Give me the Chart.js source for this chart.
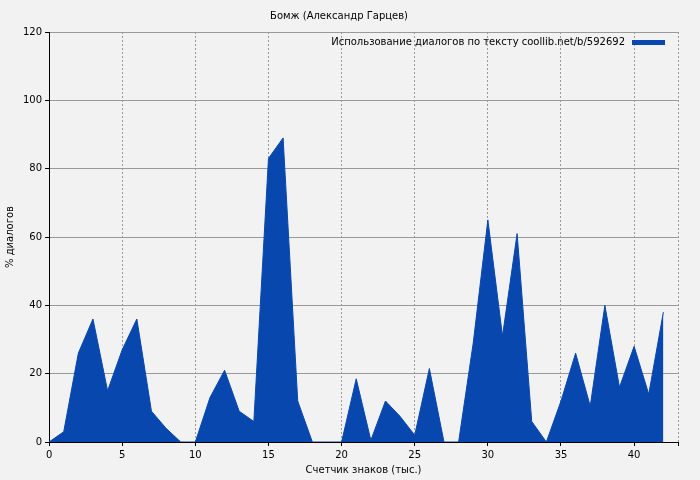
<!DOCTYPE html>
<html><head><meta charset="utf-8">
<script src="https://cdn.jsdelivr.net/npm/chart.js@4"></script>
<style>html,body{margin:0;background:#f2f2f2;}#w{width:700px;height:480px;}</style>
</head><body><div id="w"><canvas id="c"></canvas></div>
<script>
const xValues = [0,1,2,3,4,5,6,7,8,9,10,11,12,13,14,15,16,17,18,19,20,21,22,23,24,25,26,27,28,29,30,31,32,33,34,35,36,37,38,39,40,41,42];
const dialogPct = [0,3,26,36,15,27,36,9,4,0,0,13,21,9,6,83,89,12,0,0,0,18.5,0.5,12,7.5,2,21.5,0,0,29,65,31,61,6,0,12,26,10.5,40,16,28,14,38];
const seriesLabel = 'Использование диалогов по тексту coollib.net/b/592692';
const chartTitle = 'Бомж (Александр Гарцев)';
const xTitle = 'Счетчик знаков (тыс.)';
const yTitle = '% диалогов';
const FONT = 'DejaVu Sans';
const legendPlugin = {id:'lg', afterDraw(ch){
  const c=ch.ctx, a=ch.chartArea; c.save();
  c.font='10px "'+FONT+'"'; c.fillStyle='#000'; c.textAlign='right'; c.textBaseline='middle';
  c.fillText(seriesLabel, a.right-53, a.top+10);
  c.fillStyle='#0847ae'; c.fillRect(a.right-46, a.top+8, 33, 5);
  c.restore();
}};
new Chart(document.getElementById('c'), {
  type:'line',
  data:{datasets:[{data:xValues.map((x,i)=>({x:x,y:dialogPct[i]})), borderColor:'#0847ae', backgroundColor:'#0847ae', borderWidth:1, fill:'origin', pointRadius:0, tension:0}]},
  options:{animation:false, responsive:true, maintainAspectRatio:false,
    layout:{padding:{left:0,right:22,top:0,bottom:0}},
    plugins:{legend:{display:false}, tooltip:{enabled:false},
      title:{display:true,text:chartTitle,color:'#000',font:{family:FONT,size:10,weight:'normal'},padding:{top:10,bottom:10}}},
    scales:{
      x:{type:'linear',min:0,max:43,border:{color:'#000',width:1},
        ticks:{stepSize:5,color:'#000',font:{family:FONT,size:10},maxRotation:0,callback:v=>v%5===0?v:''},
        grid:{color:'#999',tickColor:'#000',tickLength:4,drawTicks:true},
        title:{display:true,text:xTitle,color:'#000',font:{family:FONT,size:10},padding:{top:0}}},
      y:{min:0,max:120,border:{color:'#000',width:1,dash:[]},
        ticks:{stepSize:20,color:'#000',font:{family:FONT,size:10}},
        grid:{color:'#999',tickColor:'#000',tickLength:4},
        title:{display:true,text:yTitle,color:'#000',font:{family:FONT,size:10}}}
    }},
  plugins:[legendPlugin, {id:'dash',beforeDraw(ch){ch.options.scales.x.border.dash=[2,2];}}]
});
</script></body></html>
